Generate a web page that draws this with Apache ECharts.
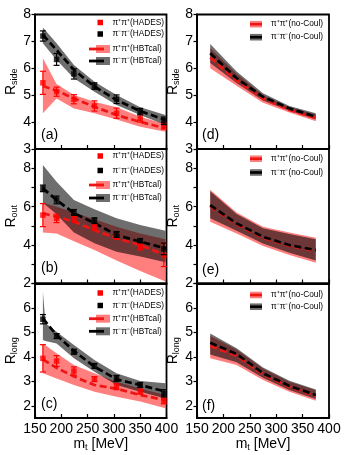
<!DOCTYPE html>
<html><head><meta charset="utf-8">
<script src="https://cdn.jsdelivr.net/npm/echarts@6/dist/echarts.min.js"></script>
<style>html,body{margin:0;padding:0;background:#fff}#c{width:350px;height:455px}</style>
</head><body><div id="c"></div>
<script>
// ---------- data ----------
const mtHades = [165, 191, 224, 263, 305, 350, 395];
const mtCalc = [165, 191, 224, 263, 305, 350, 398];
const mtCalcC = [165, 170, 191, 224, 263, 305, 350, 398];
const mtNoCoul = [175, 225, 275, 325, 375];

// (a) R_side
const aPipHades = [5.46, 5.13, 4.85, 4.6, 4.33, 4.14, 3.86];
const aPipErr = [0.43, 0.17, 0.17, 0.19, 0.19, 0.14, 0.12];
const aPimHades = [7.2, 6.33, 5.79, 5.34, 4.85, 4.39, 4.05];
const aPimErr = [0.19, 0.22, 0.19, 0.12, 0.16, 0.12, 0.14];
const aPipCalc = [5.34, 5.17, 4.88, 4.57, 4.26, 4.01, 3.77];
const aPipCalcLo = [4.33, 4.88, 4.51, 4.33, 4.1, 3.83, 3.64];
const aPipCalcHi = [6.37, 5.42, 5.01, 4.76, 4.55, 4.2, 3.93];
const aPimCalc = [7.24, 6.68, 5.94, 5.32, 4.82, 4.41, 4.08];
const aPimCalcLo = [6.93, 6.31, 5.63, 5.13, 4.64, 4.26, 3.89];
const aPimCalcHi = [7.52, 6.93, 6.12, 5.5, 5.01, 4.55, 4.26];

// (b) R_out
const bPipHades = [5.56, 5.39, 5.34, 4.92, 4.45, 3.9, 3.48];
const bPipErr = [0.6, 0.22, 0.15, 0.15, 0.15, 0.15, 0.6];
const bPimHades = [6.95, 6.35, 5.7, 5.27, 4.55, 4.23, 3.8];
const bPimErr = [0.17, 0.2, 0.15, 0.15, 0.15, 0.1, 0.3];
const bPipCalc = [5.65, 5.48, 5.22, 4.78, 4.35, 4.0, 3.48];
const bPipCalcLo = [4.65, 4.6, 4.2, 3.75, 3.2, 2.65, 2.1];
const bPipCalcHi = [6.2, 6.0, 5.7, 5.35, 4.95, 4.6, 4.3];
const bPimCalc = [6.95, 6.35, 5.66, 5.15, 4.52, 4.18, 3.83];
const bPimCalcLo = [6.2, 5.6, 4.65, 4.1, 3.65, 3.4, 3.1];
const bPimCalcHi = [8.17, 7.3, 6.35, 5.86, 5.39, 5.04, 4.75];

// (c) R_long
const cPipHades = [3.94, 3.83, 3.42, 3.09, 2.78, 2.58, 2.2];
const cPipErr = [0.56, 0.22, 0.17, 0.1, 0.12, 0.1, 0.12];
const cPimHades = [5.54, 4.85, 4.21, 3.63, 3.12, 2.85, 2.51];
const cPimErr = [0.19, 0.1, 0.1, 0.1, 0.12, 0.1, 0.15];
const cPipCalc = [3.9, 3.55, 3.2, 2.85, 2.7, 2.44, 2.23];
const cPipCalcLo = [3.33, 3.12, 2.85, 2.57, 2.37, 2.17, 1.9];
const cPipCalcHi = [4.55, 4.15, 3.67, 3.33, 2.98, 2.71, 2.44];
const cPimCalc = [5.57, 4.89, 4.24, 3.6, 3.08, 2.85, 2.58];
const cPimCalcLo = [4.69, 4.65, 4.55, 3.94, 3.39, 2.85, 2.57, 2.3];
const cPimCalcHi = [6.67, 5.37, 5.03, 4.49, 3.87, 3.33, 3.01, 2.92];

// (d) R_side no-Coul
const dPip = [6.4, 5.55, 4.87, 4.45, 4.15];
const dPipLo = [6.0, 5.35, 4.72, 4.36, 4.03];
const dPipHi = [6.75, 5.8, 5.0, 4.55, 4.28];
const dPim = [6.56, 5.63, 4.94, 4.51, 4.2];
const dPimLo = [6.2, 5.45, 4.8, 4.42, 4.1];
const dPimHi = [6.9, 5.88, 5.07, 4.6, 4.33];

// (e) R_out no-Coul
const ePip = [6.02, 5.08, 4.38, 3.96, 3.7];
const ePipLo = [5.22, 4.6, 3.95, 3.48, 3.08];
const ePipHi = [6.88, 5.7, 4.95, 4.65, 4.38];
const ePim = [6.08, 5.13, 4.43, 4.0, 3.74];
const ePimLo = [5.4, 4.75, 4.08, 3.6, 3.2];
const ePimHi = [6.8, 5.62, 4.88, 4.58, 4.3];

// (f) R_long no-Coul
const fPip = [4.44, 4.05, 3.28, 2.77, 2.4];
const fPipLo = [3.94, 3.67, 3.05, 2.57, 2.21];
const fPipHi = [4.85, 4.3, 3.52, 2.98, 2.63];
const fPim = [4.58, 4.12, 3.33, 2.81, 2.44];
const fPimLo = [4.1, 3.78, 3.15, 2.65, 2.28];
const fPimHi = [4.96, 4.35, 3.57, 3.02, 2.67];

const xTicks = [150, 200, 250, 300, 350, 400];
const panelLabels = ['(a)', '(b)', '(c)', '(d)', '(e)', '(f)'];
const yNames = ['side', 'out', 'long', 'side', 'out', 'long'];
const yRanges = [[3, 8], [2, 9], [1.5, 7], [3, 8], [2, 9], [1.5, 7]];
const yLabelVals = [[3, 4, 5, 6, 7, 8], [2, 4, 6, 8], [2, 3, 4, 5, 6], [3, 4, 5, 6, 7, 8], [2, 4, 6, 8], [2, 3, 4, 5, 6]];
const yTickVals = [[3, 4, 5, 6, 7, 8], [2, 3, 4, 5, 6, 7, 8], [2, 3, 4, 5, 6, 7], [3, 4, 5, 6, 7, 8], [2, 3, 4, 5, 6, 7, 8], [2, 3, 4, 5, 6, 7]];
const legPip = 'π⁺π⁺(HADES)', legPim = 'π⁻π⁻(HADES)';
const legPipCalc = 'π⁺π⁺(HBTcal)', legPimCalc = 'π⁻π⁻(HBTcal)';
const legPipNC = 'π⁺π⁺(no-Coul)', legPimNC = 'π⁻π⁻(no-Coul)';

// ---------- styles ----------
const FONT = 'Liberation Sans, Arial, Helvetica, sans-serif';
const RED = '#ff0000', REDLINE = '#ee1515', BLACK = '#000';
const REDBAND = 'rgba(255,0,0,0.5)', GRAYBAND = 'rgba(0,0,0,0.57)';
const gridPos = [
  {left: 35, top: 14.5, width: 131.5}, {left: 35, top: 149, width: 131.5}, {left: 35, top: 283.5, width: 131.5},
  {left: 197, top: 14.5, width: 132}, {left: 197, top: 149, width: 132}, {left: 197, top: 283.5, width: 132}
];
const PH = 134.5;

const grids = gridPos.map(g => ({left: g.left, top: g.top, width: g.width, height: PH, show: true,
  borderColor: '#000', borderWidth: 1.8, backgroundColor: 'transparent'}));

const xAxes = gridPos.map((g, i) => {
  const bottom = (i === 2 || i === 5);
  return {
    gridIndex: i, type: 'value', min: 150, max: 400, interval: 50,
    axisLine: {show: true, onZero: false, lineStyle: {color: '#000', width: 1.8}},
    axisTick: {show: true, inside: true, length: 4, lineStyle: {color: '#000', width: 1.2}},
    axisLabel: {show: bottom, fontSize: 14, color: '#000', fontFamily: FONT, margin: 4,
      customValues: xTicks},
    splitLine: {show: false},
    name: bottom ? '{m|m}{t|t}{m| [MeV]}' : '',
    nameLocation: 'middle', nameGap: 18,
    nameTextStyle: {rich: {
      m: {fontSize: 14, fontFamily: FONT, color: '#000', lineHeight: 16},
      t: {fontSize: 9, fontFamily: FONT, color: '#000', verticalAlign: 'bottom', lineHeight: 9}
    }}
  };
});

const yAxes = gridPos.map((g, i) => ({
  gridIndex: i, type: 'value', min: yRanges[i][0], max: yRanges[i][1],
  axisLine: {show: true, onZero: false, lineStyle: {color: '#000', width: 1.8}},
  axisTick: {show: true, inside: false, length: 3.5, lineStyle: {color: '#000', width: 1.2},
    customValues: yTickVals[i]},
  axisLabel: {show: true, fontSize: 14, color: '#000', fontFamily: FONT, margin: 4,
    customValues: yLabelVals[i]},
  splitLine: {show: false},
  name: '{R|R}{s|' + yNames[i] + '}',
  nameLocation: 'middle', nameGap: 14,
  nameTextStyle: {rich: {
    R: {fontSize: 14, fontFamily: FONT, color: '#000', lineHeight: 16},
    s: {fontSize: 9, fontFamily: FONT, color: '#000', verticalAlign: 'bottom', lineHeight: 9}
  }}
}));

// ---------- series helpers ----------
function zip(xs, ys) { return xs.map((x, k) => [x, ys[k]]); }
function band(i, name, xs, lo, hi, color, z) {
  return {
    type: 'custom', name: name, xAxisIndex: i, yAxisIndex: i, z: z, silent: true, clip: true,
    data: xs.map((x, k) => [x, lo[k], hi[k]]),
    renderItem: function (params, api) {
      if (params.dataIndex !== 0) return null;
      const up = xs.map((x, k) => api.coord([x, hi[k]]));
      const dn = xs.map((x, k) => api.coord([x, lo[k]])).reverse();
      return {type: 'polygon', shape: {points: up.concat(dn)}, style: {fill: color}};
    }
  };
}
function dashed(i, name, xs, ys, color, z) {
  return {type: 'line', name: name, xAxisIndex: i, yAxisIndex: i, z: z, data: zip(xs, ys),
    showSymbol: false, silent: true,
    lineStyle: {color: color, width: 2.7, type: [7, 3.5]}};
}
function errs(i, name, xs, ys, es, color, z) {
  return {
    type: 'custom', name: name, xAxisIndex: i, yAxisIndex: i, z: z, silent: true,
    data: xs.map((x, k) => [x, ys[k] - es[k], ys[k] + es[k]]),
    renderItem: function (params, api) {
      const x = api.value(0);
      const p1 = api.coord([x, api.value(1)]);
      const p2 = api.coord([x, api.value(2)]);
      const w = 3;
      const st = {stroke: color, lineWidth: 1.2};
      return {type: 'group', children: [
        {type: 'line', shape: {x1: p1[0], y1: p1[1], x2: p2[0], y2: p2[1]}, style: st},
        {type: 'line', shape: {x1: p1[0] - w, y1: p1[1], x2: p1[0] + w, y2: p1[1]}, style: st},
        {type: 'line', shape: {x1: p2[0] - w, y1: p2[1], x2: p2[0] + w, y2: p2[1]}, style: st}
      ]};
    }
  };
}
function pts(i, name, xs, ys, color, z) {
  return {type: 'scatter', name: name, xAxisIndex: i, yAxisIndex: i, z: z, data: zip(xs, ys),
    symbol: 'rect', symbolSize: 5.5, itemStyle: {color: color}, silent: true};
}

const series = [];
function leftPanel(i, pipH, pipE, pimH, pimE, pipC, pipLo, pipHi, pimC, pimLo, pimHi, pimBandX) {
  series.push(band(i, legPipCalc, mtCalc, pipLo, pipHi, REDBAND, 1));
  series.push(band(i, legPimCalc, pimBandX || mtCalc, pimLo, pimHi, GRAYBAND, 2));
  series.push(dashed(i, legPipCalc, mtCalc, pipC, REDLINE, 3));
  series.push(dashed(i, legPimCalc, mtCalc, pimC, BLACK, 4));
  series.push(errs(i, legPip, mtHades, pipH, pipE, RED, 5));
  series.push(pts(i, legPip, mtHades, pipH, RED, 6));
  series.push(errs(i, legPim, mtHades, pimH, pimE, BLACK, 7));
  series.push(pts(i, legPim, mtHades, pimH, BLACK, 8));
}
function rightPanel(i, pip, pipLo, pipHi, pim, pimLo, pimHi) {
  series.push(band(i, legPipNC, mtNoCoul, pipLo, pipHi, REDBAND, 1));
  series.push(band(i, legPimNC, mtNoCoul, pimLo, pimHi, GRAYBAND, 2));
  series.push(dashed(i, legPipNC, mtNoCoul, pip, REDLINE, 3));
  series.push(dashed(i, legPimNC, mtNoCoul, pim, BLACK, 4));
}
leftPanel(0, aPipHades, aPipErr, aPimHades, aPimErr, aPipCalc, aPipCalcLo, aPipCalcHi, aPimCalc, aPimCalcLo, aPimCalcHi);
leftPanel(1, bPipHades, bPipErr, bPimHades, bPimErr, bPipCalc, bPipCalcLo, bPipCalcHi, bPimCalc, bPimCalcLo, bPimCalcHi);
leftPanel(2, cPipHades, cPipErr, cPimHades, cPimErr, cPipCalc, cPipCalcLo, cPipCalcHi, cPimCalc, cPimCalcLo, cPimCalcHi, mtCalcC);
rightPanel(3, dPip, dPipLo, dPipHi, dPim, dPimLo, dPimHi);
rightPanel(4, ePip, ePipLo, ePipHi, ePim, ePimLo, ePimHi);
rightPanel(5, fPip, fPipLo, fPipHi, fPim, fPimLo, fPimHi);

// ---------- legends & panel labels (graphic) ----------
const graphic = [];
const legFont = {fontSize: 8.3, fontFamily: FONT, fill: '#000', verticalAlign: 'middle', align: 'left'};
const leftRows = [[22.5, 34, 49, 61], [156, 170.5, 185, 198], [293, 305.5, 318.7, 331.3]];
leftRows.forEach(r => {
  graphic.push({type: 'rect', shape: {x: 97.5, y: r[0] - 2.75, width: 5.5, height: 5.5}, style: {fill: RED}, z: 100});
  graphic.push({type: 'text', x: 112.5, y: r[0], style: Object.assign({text: legPip}, legFont), z: 100});
  graphic.push({type: 'rect', shape: {x: 97.5, y: r[1] - 2.75, width: 5.5, height: 5.5}, style: {fill: BLACK}, z: 100});
  graphic.push({type: 'text', x: 112.5, y: r[1], style: Object.assign({text: legPim}, legFont), z: 100});
  graphic.push({type: 'rect', shape: {x: 96, y: r[2] - 4, width: 14, height: 8}, style: {fill: REDBAND}, z: 100});
  graphic.push({type: 'line', shape: {x1: 89, y1: r[2], x2: 104, y2: r[2]}, style: {stroke: REDLINE, lineWidth: 2.8}, z: 101});
  graphic.push({type: 'text', x: 112.5, y: r[2], style: Object.assign({text: legPipCalc}, legFont), z: 100});
  graphic.push({type: 'rect', shape: {x: 96, y: r[3] - 4, width: 14, height: 8}, style: {fill: GRAYBAND}, z: 100});
  graphic.push({type: 'line', shape: {x1: 89, y1: r[3], x2: 104, y2: r[3]}, style: {stroke: BLACK, lineWidth: 2.8}, z: 101});
  graphic.push({type: 'text', x: 112.5, y: r[3], style: Object.assign({text: legPimCalc}, legFont), z: 100});
});
const rightRows = [[24.2, 37.2], [158.7, 172.5], [295, 306.7]];
rightRows.forEach(r => {
  graphic.push({type: 'rect', shape: {x: 250, y: r[0] - 3.3, width: 12, height: 6.6}, style: {fill: REDBAND}, z: 100});
  graphic.push({type: 'line', shape: {x1: 250, y1: r[0], x2: 262, y2: r[0]}, style: {stroke: REDLINE, lineWidth: 2.6}, z: 101});
  graphic.push({type: 'text', x: 271, y: r[0], style: Object.assign({text: legPipNC}, legFont), z: 100});
  graphic.push({type: 'rect', shape: {x: 250, y: r[1] - 3.3, width: 12, height: 6.6}, style: {fill: GRAYBAND}, z: 100});
  graphic.push({type: 'line', shape: {x1: 250, y1: r[1], x2: 262, y2: r[1]}, style: {stroke: BLACK, lineWidth: 2.6}, z: 101});
  graphic.push({type: 'text', x: 271, y: r[1], style: Object.assign({text: legPimNC}, legFont), z: 100});
});
const labelPos = [[41, 135], [41, 268.5], [41, 404], [202, 135], [202, 270], [202, 406]];
labelPos.forEach((p, i) => {
  graphic.push({type: 'text', x: p[0], y: p[1], z: 100,
    style: {text: panelLabels[i], fontSize: 14, fontFamily: FONT, fill: '#000', verticalAlign: 'middle', align: 'left'}});
});

const chart = echarts.init(document.getElementById('c'), null, {renderer: 'canvas'});
chart.setOption({
  animation: false,
  backgroundColor: '#fff',
  grid: grids, xAxis: xAxes, yAxis: yAxes, series: series, graphic: graphic
});
</script></body></html>
